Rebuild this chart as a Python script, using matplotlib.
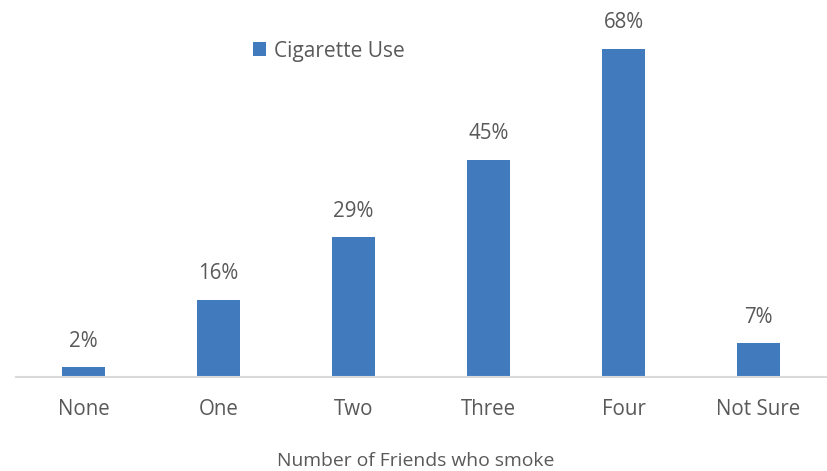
import matplotlib.pyplot as plt

categories = ["None", "One", "Two", "Three", "Four", "Not Sure"]
values = [2, 16, 29, 45, 68, 7]
value_labels = ["2%", "16%", "29%", "45%", "68%", "7%"]
series_name = "Cigarette Use"
x_title = "Number of Friends who smoke"

plt.rcParams['font.family'] = ['Open Sans', 'DejaVu Sans']
text_color = "#595959"
bar_color = "#427BBD"

fig = plt.figure(figsize=(8.28, 4.71), dpi=100)
# baseline at y=377px, ~4.82 px per percentage point
ax = fig.add_axes([16 / 828, 1 - 377 / 471, 810 / 828, 75 * 4.824 / 471])

x = list(range(len(categories)))
ax.bar(x, values, width=0.32, color=bar_color, label=series_name)
ax.set_xlim(-0.5, len(categories) - 0.5)
ax.set_ylim(0, 75)

for xi, v, lab in zip(x, values, value_labels):
    ax.annotate(lab, (xi, v), xytext=(0, 26), textcoords="offset pixels",
                ha="center", va="center", fontsize=14.8, color=text_color)

ax.set_xticks(x)
ax.set_xticklabels(categories, fontsize=14.8, color=text_color)
ax.tick_params(axis="x", length=0, pad=16)
ax.set_yticks([])
for side in ["left", "right", "top"]:
    ax.spines[side].set_visible(False)
ax.spines["bottom"].set_color("#D9D9D9")
ax.spines["bottom"].set_linewidth(1.5)

fig.text(416 / 828, 1 - 461 / 471, x_title, ha="center", va="center",
         fontsize=13.9, color=text_color)

leg = fig.legend(loc="center left", bbox_to_anchor=(234 / 828, 1 - 51 / 471),
                 frameon=False, fontsize=15, handlelength=0.65, handleheight=0.65,
                 handletextpad=0.35)
for t in leg.get_texts():
    t.set_color(text_color)

fig.savefig("out.png", dpi=100)
